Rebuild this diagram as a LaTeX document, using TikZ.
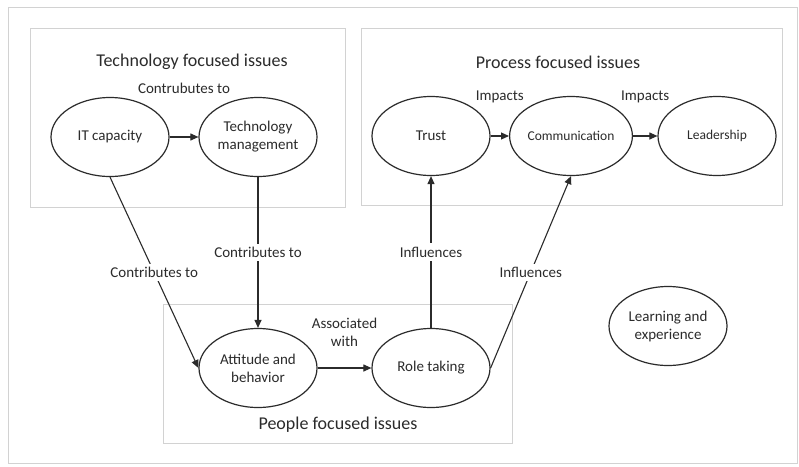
\documentclass[tikz,border=0pt]{standalone}
\usepackage{fontspec}
\setmainfont{Carlito}
\usepackage{tikz}
\usetikzlibrary{arrows.meta}
\usetikzlibrary{shapes.geometric}
\definecolor{ink}{HTML}{2B2B2B}
\definecolor{framegray}{HTML}{D2D2D2}
\tikzset{
issue/.style={ellipse, draw=ink, line width=1.2pt, minimum width=118pt, minimum height=79pt,
  inner sep=0pt, align=center, text=ink, font=\fontsize{15}{18}\selectfont},
smallissue/.style={issue, font=\fontsize{13.5}{16}\selectfont},
link/.style={draw=ink, line width=1.1pt, -{Triangle[length=8pt,width=7pt]}},
linklabel/.style={text=ink, font=\fontsize{15}{18}\selectfont, align=center},
grouptitle/.style={text=ink, font=\fontsize{18}{22}\selectfont},
}

\begin{document}
\begin{tikzpicture}[x=1pt, y=-1pt]

\useasboundingbox (0,0) rectangle (799,466);
\fill [white] (0,0) rectangle (799,466);

% frames
\draw [framegray, line width=1pt] (8,7) rectangle (797,463);
\foreach \xa/\ya/\xb/\yb in {30/28/345/207, 361/28/782/205, 163/304/512/443} {\draw [framegray, line width=0.8pt] (\xa,\ya) rectangle (\xb,\yb);}

\node [grouptitle] at (192,62) {Technology focused issues};
\node [grouptitle] at (558,62) {Process focused issues};
\node [grouptitle] at (338,425) {People focused issues};

% issues
\node [issue] (itcap) at (110,137) {IT capacity};
\node [issue] (techmgmt) at (258,137) {Technology\\management};
\node [issue] (trust) at (431,136) {Trust};
\node [smallissue] (comm) at (571,136) {Communication};
\node [smallissue] (lead) at (717,136) {Leadership};
\node [issue] (attitude) at (258,368) {Attitude and\\behavior};
\node [issue] (roletake) at (431,368) {Role taking};
\node [issue] (learn) at (668,326) {Learning and\\experience};

% links
\draw [link] (itcap) -- node [linklabel, above=40pt] {Contrubutes to} (techmgmt);
\draw [link] (trust) -- node [linklabel, above=29pt] {Impacts} (comm);
\draw [link] (comm) -- node [linklabel, above=29pt] {Impacts} (lead);
\draw [link] (itcap.south) -- node [linklabel, fill=white] {Contributes to} (attitude.west);
\draw [link] (techmgmt) -- node [linklabel, fill=white] {Contributes to} (attitude);
\draw [link] (attitude) -- node [linklabel, above=18pt] {Associated\\with} (roletake);
\draw [link] (roletake) -- node [linklabel, fill=white] {Influences} (trust);
\draw [link] (roletake.east) -- node [linklabel, fill=white] {Influences} (comm.south);

\end{tikzpicture}
\end{document}
